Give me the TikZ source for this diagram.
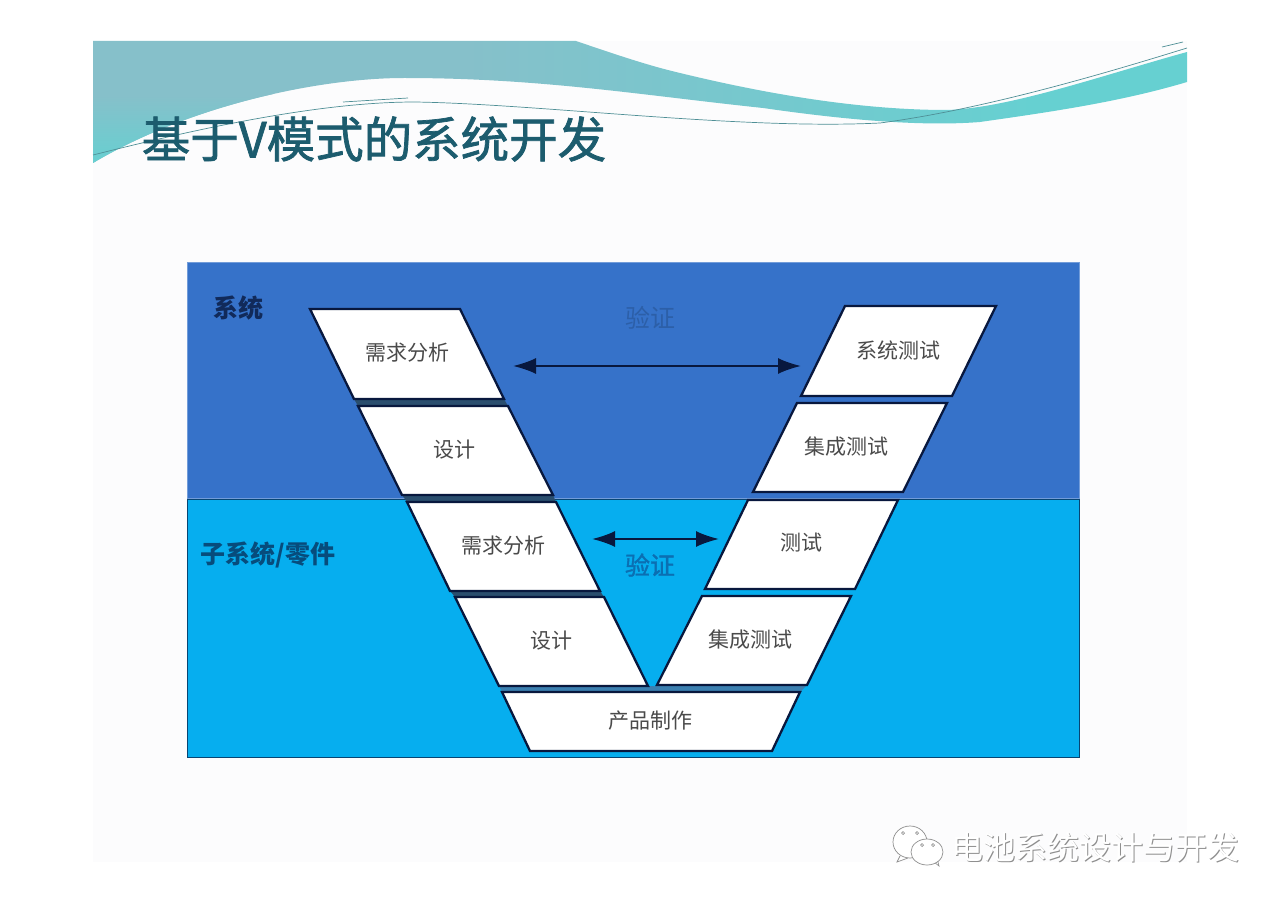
\documentclass[tikz,border=0pt]{standalone}
\usepackage{fontspec}
\usetikzlibrary{arrows.meta}
\newfontfamily\cjk{Noto Sans CJK SC}
\newfontfamily\cjkheavy[FakeBold=1.5]{Noto Sans CJK SC}
\definecolor{slidebg}{HTML}{FCFCFD}
\definecolor{bandside}{HTML}{86C0CA}
\definecolor{bandmid}{HTML}{66D0D1}
\definecolor{waveline}{HTML}{4F8F96}
\definecolor{titleink}{HTML}{1C5C6E}
\definecolor{sysblue}{HTML}{3672C9}
\definecolor{subblue}{HTML}{06AEEF}
\definecolor{boxline}{HTML}{08183E}
\definecolor{boxtext}{HTML}{4A4A4A}
\definecolor{gapdark}{HTML}{2A4E6E}
\definecolor{gapblue}{HTML}{3B7FB0}
\definecolor{shadowgray}{HTML}{8E8E8E}
\definecolor{sysverifyink}{HTML}{2C5FA8}
\definecolor{subverifyink}{HTML}{0B6FB2}
\pgfdeclarehorizontalshading{bandshade}{100bp}{
  color(0bp)=(bandside); color(42bp)=(bandside); color(68bp)=(bandmid);
  color(86bp)=(bandmid); color(100bp)=(bandside)}
\tikzset{
  vbox/.style={draw=boxline, line width=2.3pt, fill=white, line join=miter},
  vlabel/.style={inner sep=0pt, text=boxtext, font=\cjk\fontsize{21}{21}\selectfont},
  verify/.style={draw=boxline, line width=2pt, {Latex[length=23pt,width=16pt]}-{Latex[length=23pt,width=16pt]}},
  wave/.style={draw=waveline, line width=0.7pt},
  chatline/.style={draw=shadowgray, line width=0.7pt, fill=white},
}
\begin{document}
\begin{tikzpicture}[x=1pt,y=-1pt]
  \useasboundingbox (0,0) rectangle (1280,904);
  \fill[white] (0,0) rectangle (1280,904);
  \fill[slidebg] (93,41) rectangle (1187,862);

  % wave at the top of the slide
  \begin{scope}
    \clip (93,41) -- (576,41) .. controls (620,56) and (650,66) .. (680,73)
      .. controls (750,90) and (850,110) .. (947,110)
      .. controls (1010,108) and (1100,76) .. (1187,52)
      -- (1187,82) .. controls (1120,102) and (1050,112) .. (980,122)
      .. controls (930,126) and (860,122) .. (763,108)
      .. controls (640,95) and (540,78) .. (404,78)
      .. controls (320,78) and (190,105) .. (93,163) -- cycle;
    \shade[shading=bandshade] (93,30) rectangle (1187,170);
    \shade[top color=bandside, bottom color=bandmid] (93,95) rectangle (300,165);
  \end{scope}
  \draw[wave] (93,155) .. controls (200,128) and (320,102) .. (415,102)
    .. controls (540,104) and (740,130) .. (880,123)
    .. controls (980,110) and (1100,75) .. (1187,48);
  \draw[wave] (343,102) -- (408,98);
  \draw[wave] (1162,47) -- (1183,42);

  \node[inner sep=0pt, text=titleink, font=\cjkheavy\fontsize{48.5}{48.5}\selectfont] (title) at (374,139) {基于V模式的系统开发};

  % the two levels
  \draw[draw=sysblue!70!white, fill=sysblue, line width=1pt] (187,263) rectangle (1079,498);
  \draw[draw=boxline!70!subblue, fill=subblue, line width=1pt] (187,499) rectangle (1079,757);

  \node[inner sep=0pt, text=boxline!80!sysblue, font=\cjk\bfseries\fontsize{25}{25}\selectfont] (system) at (238,308) {系统};
  \node[inner sep=0pt, text=boxline!65!subblue, font=\cjk\bfseries\fontsize{25}{25}\selectfont] (subsystem) at (268,555) {子系统/零件};

  % dark gaps between the boxes
  \foreach \xa/\xb/\xc/\xd/\ya/\yb/\gap in {354/504/508/358/399/406/gapdark,
    402/553/556/407/495/502/gapdark, 450/600/604/455/591/597/gapdark,
    499/648/800/502/686/692/gapblue, 657/807/800/650/685/692/gapblue}
    \fill[\gap] (\xa,\ya) -- (\xb,\ya) -- (\xc,\yb) -- (\xd,\yb) -- cycle;

  % name / top left, top right, bottom right, bottom left / top, bottom / text
  \foreach \name/\xa/\xb/\xc/\xd/\ya/\yb/\xt/\yt/\txt in {
    req/310/460/504/354/309/399/407/353/需求分析,
    des/358/508/553/402/406/495/454/450/设计,
    subreq/407/556/600/450/502/591/503/546/需求分析,
    subdes/455/604/648/499/597/686/551/641/设计,
    make/502/800/772/530/692/751/650/721/产品制作,
    systest/845/996/952/801/306/396/898/350/系统测试,
    inttest/797/947/903/753/403/492/846/447/集成测试,
    subtest/748/898/855/705/500/589/801/543/测试,
    subint/702/851/807/657/596/685/750/640/集成测试}
  {
    \draw[vbox] (\xa,\ya) -- (\xb,\ya) -- (\xc,\yb) -- (\xd,\yb) -- cycle;
    \node[vlabel] (\name) at (\xt,\yt) {\txt};
  }

  % verification arrows
  \coordinate (sysL) at (513,366);
  \coordinate (sysR) at (801,366);
  \coordinate (subL) at (592,539);
  \coordinate (subR) at (719,539);
  \draw[verify] (sysL) -- (sysR);
  \draw[verify] (subL) -- (subR);
  \node[inner sep=0pt, text=sysverifyink, font=\cjk\fontsize{25}{25}\selectfont] (sysverify) at (650,318) {验证};
  \node[inner sep=0pt, text=subverifyink, font=\cjkheavy\fontsize{25}{25}\selectfont] (subverify) at (650,565) {验证};

  % account mark at the bottom right
  \draw[chatline] (900,856) -- (897,862) -- (908,858);
  \draw[chatline] (910,842) ellipse (17 and 16);
  \draw[chatline] (934,862) -- (939,866) -- (937,858);
  \draw[chatline] (927,852) ellipse (16 and 13);
  \foreach \x/\y in {903/833, 917/833, 922/845, 933/845}
    \draw[chatline] (\x,\y) circle (1.5);
  \node[inner sep=0pt, text=shadowgray, font=\cjk\fontsize{32}{32}\selectfont] (markshadow) at (1096.5,848.5) {电池系统设计与开发};
  \node[inner sep=0pt, text=white, font=\cjk\fontsize{32}{32}\selectfont] (marktext) at (1095.5,847.5) {电池系统设计与开发};
\end{tikzpicture}
\end{document}
